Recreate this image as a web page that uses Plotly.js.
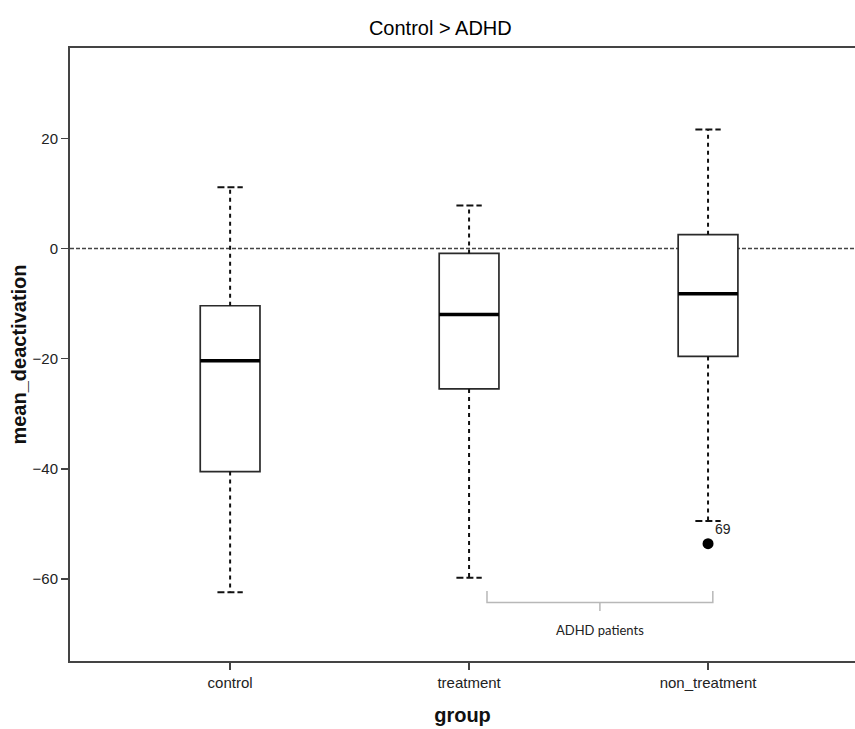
<!DOCTYPE html>
<html><head><meta charset="utf-8">
<script src="https://cdn.plot.ly/plotly-3.0.1.min.js"></script>
<style>html,body{margin:0;padding:0;background:#fff}#chart{width:855px;height:729px}</style>
</head><body><div id="chart"></div>
<script>
const categories = ['control', 'treatment', 'non_treatment'];
const q1 = [-40.5, -25.5, -19.6];
const medians = [-20.4, -12.0, -8.2];
const q3 = [-10.4, -0.9, 2.5];
const whiskerLow = [-62.4, -59.8, -49.5];
const whiskerHigh = [11.1, 7.8, 21.6];
const outlierGroup = ['non_treatment'];
const outlierValue = [-53.6];
const outlierLabel = ['69'];
const yTickVals = [-60, -40, -20, 0, 20];
const referenceValue = 0;
const bracketGroups = ['treatment', 'non_treatment'];
const bracketLabel = 'ADHD patients';

const idx = categories.map((c, i) => i);
const boxW = 0.25, capW = 0.053;

const traces = [];
// whiskers
const wx = [], wy = [], cx = [], cy = [];
idx.forEach(i => {
  wx.push(i, i, null, i, i, null);
  wy.push(q3[i], whiskerHigh[i], null, q1[i], whiskerLow[i], null);
  cx.push(i - capW, i + capW, null, i - capW, i + capW, null);
  cy.push(whiskerHigh[i], whiskerHigh[i], null, whiskerLow[i], whiskerLow[i], null);
});
traces.push({type: 'scatter', mode: 'lines', x: wx, y: wy, hoverinfo: 'skip',
  line: {color: '#111', width: 2, dash: '4px,4px'}, showlegend: false});
traces.push({type: 'scatter', mode: 'lines', x: cx, y: cy, hoverinfo: 'skip',
  line: {color: '#111', width: 2, dash: '7px,3px'}, showlegend: false});
// boxes
traces.push({type: 'box', x: idx, q1: q1, median: medians, q3: q3,
  lowerfence: q1, upperfence: q3, width: boxW, whiskerwidth: 0,
  fillcolor: '#ffffff', line: {color: '#2a2a2a', width: 1.7}, showlegend: false});
// median lines
const mx = [], my = [];
idx.forEach(i => { mx.push(i - boxW / 2, i + boxW / 2, null); my.push(medians[i], medians[i], null); });
traces.push({type: 'scatter', mode: 'lines', x: mx, y: my, hoverinfo: 'skip',
  line: {color: '#000', width: 3.5}, showlegend: false});
// outliers
traces.push({type: 'scatter', mode: 'markers',
  x: outlierGroup.map(g => categories.indexOf(g)), y: outlierValue,
  marker: {color: '#000', size: 11}, showlegend: false});

const annotations = outlierGroup.map((g, k) => ({
  x: categories.indexOf(g), y: outlierValue[k], xref: 'x', yref: 'y',
  text: outlierLabel[k], showarrow: false, xshift: 15, yshift: 15,
  font: {family: 'Liberation Sans, Arial', size: 14, color: '#222'}
}));

const bA = categories.indexOf(bracketGroups[0]) + 0.075;
const bB = categories.indexOf(bracketGroups[1]) + 0.02;
const bM = (bA + bB) / 2;
const yTop = -62.2, yMid = -64.3, yTip = -65.8;
annotations.push({x: bM, y: -69.2, xref: 'x', yref: 'y', text: bracketLabel, showarrow: false,
  font: {family: 'Lato, Open Sans, sans-serif', size: 13, color: '#222'}});

const shapes = [
  {type: 'line', xref: 'paper', yref: 'y', x0: 0, x1: 1, y0: referenceValue, y1: referenceValue,
   line: {color: '#444', width: 1.6, dash: '4px,2px'}, layer: 'below'},
  {type: 'path', xref: 'x', yref: 'y',
   path: `M ${bA},${yTop} L ${bA},${yMid} L ${bB},${yMid} L ${bB},${yTop} M ${bM},${yMid} L ${bM},${yTip}`,
   line: {color: '#b8b8b8', width: 1.5}}
];

const layout = {
  width: 855, height: 729,
  margin: {l: 70, r: 0, t: 48, b: 68},
  paper_bgcolor: '#fff', plot_bgcolor: '#fff',
  title: {text: 'Control > ADHD', x: 0.515, xref: 'container', xanchor: 'center',
    y: 0.962, yref: 'container', yanchor: 'middle',
    font: {family: 'Liberation Sans, Arial', size: 20, color: '#000'}},
  xaxis: {range: [-0.67, 2.615], tickvals: idx, ticktext: categories,
    showgrid: false, zeroline: false, showline: true, mirror: true, linecolor: '#444', linewidth: 2,
    ticks: 'outside', ticklen: 7, tickcolor: '#444', tickwidth: 1.5,
    tickfont: {family: 'Liberation Sans, Arial', size: 15, color: '#222'},
    title: {text: '<b>group</b>', standoff: 18, font: {family: 'Liberation Sans, Arial', size: 20, color: '#111'}}},
  yaxis: {range: [-74.9, 36.4], tickvals: yTickVals,
    showgrid: false, zeroline: false, showline: true, linecolor: '#444', linewidth: 2,
    ticks: 'outside', ticklen: 7, tickcolor: '#444', tickwidth: 1.5,
    tickfont: {family: 'Liberation Sans, Arial', size: 15, color: '#222'},
    title: {text: '<b>mean_deactivation</b>', standoff: 1, font: {family: 'Liberation Sans, Arial', size: 20, color: '#111'}}},
  shapes: shapes, annotations: annotations, showlegend: false
};

Plotly.newPlot('chart', traces, layout, {displayModeBar: false, staticPlot: true});
</script></body></html>
